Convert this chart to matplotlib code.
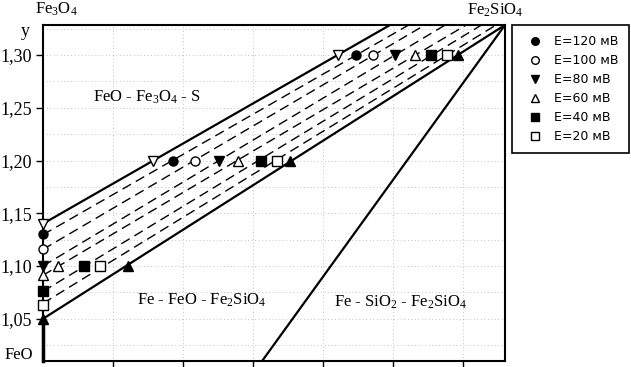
import numpy as np
import matplotlib
matplotlib.use("Agg")
import matplotlib.pyplot as plt
from matplotlib.lines import Line2D

plt.rcParams['font.family'] = ['Liberation Serif', 'DejaVu Serif']
plt.rcParams['mathtext.default'] = 'regular'

# ---- data ----
x_min, x_max = 0.0, 0.66
y_min, y_max = 1.01, 1.3285
y_ticks = [1.05, 1.10, 1.15, 1.20, 1.25, 1.30]
y_tick_labels = ["1,05", "1,10", "1,15", "1,20", "1,25", "1,30"]
x_ticks = [0.1, 0.2, 0.3, 0.4, 0.5, 0.6]

series_labels = ["E=120 мВ", "E=100 мВ", "E=80 мВ", "E=60 мВ", "E=40 мВ", "E=20 мВ"]
series_markers = ["o", "o", "v", "^", "s", "s"]
series_filled = [True, False, True, False, True, False]

e120_x = [0.0, 0.186, 0.447]
e120_y = [1.130, 1.20, 1.30]
e100_x = [0.0, 0.217, 0.472]
e100_y = [1.116, 1.20, 1.30]
e80_x = [0.0, 0.251, 0.503]
e80_y = [1.100, 1.20, 1.30]
e60_x = [0.0, 0.022, 0.279, 0.531]
e60_y = [1.0915, 1.10, 1.20, 1.30]
e40_x = [0.0, 0.058, 0.311, 0.554]
e40_y = [1.076, 1.10, 1.20, 1.30]
e20_x = [0.0, 0.081, 0.334, 0.577]
e20_y = [1.063, 1.10, 1.20, 1.30]

upper_x = [0.0, 0.157, 0.421]        # open down triangles, upper boundary
upper_y = [1.140, 1.20, 1.30]
lower_x = [0.0, 0.121, 0.353, 0.593]  # filled up triangles, lower boundary
lower_y = [1.050, 1.10, 1.20, 1.30]

corner = (0.66, 1.3285)               # Fe2SiO4
sio2_line_x = [0.313, 0.66]
sio2_line_y = [1.01, 1.3285]
feo_line_x = [0.0, 0.0]
feo_line_y = [1.01, 1.05]

series_x = [e120_x, e100_x, e80_x, e60_x, e40_x, e20_x]
series_y = [e120_y, e100_y, e80_y, e60_y, e40_y, e20_y]

# ---- figure ----
fig = plt.figure(figsize=(6.31, 3.67), dpi=100)
ax = fig.add_axes([43/631, 1-361/367, 462/631, 336/367])
ax.set_xlim(x_min, x_max)
ax.set_ylim(y_min, y_max)

# faint dotted grid (sparse, as in the scanned original)
for yy in np.arange(1.025, 1.33, 0.025):
    ax.axhline(yy, color='0.55', lw=0.5, ls=(0, (1, 4)), zorder=0)
for xx in np.arange(0.1, 0.66, 0.1):
    ax.axvline(xx, color='0.55', lw=0.5, ls=(0, (1, 4)), zorder=0)

xx_full = np.linspace(x_min, x_max, 200)

# dashed series lines (linear fits through the markers)
for sx, sy in zip(series_x, series_y):
    k, b = np.polyfit(sx, sy, 1)
    ax.plot(xx_full, k * xx_full + b, color='black', lw=1.0,
            ls=(0, (7, 4)), zorder=2)

# upper boundary
k, b = np.polyfit(upper_x, upper_y, 1)
ax.plot(xx_full, k * xx_full + b, color='black', lw=1.6, zorder=3)
# lower boundary to Fe2SiO4
ax.plot([lower_x[0], corner[0]], [lower_y[0], corner[1]], color='black', lw=1.6, zorder=3)
# Fe - SiO2 - Fe2SiO4 boundary
ax.plot(sio2_line_x, sio2_line_y, color='black', lw=1.6, zorder=3)
# thick y-axis part below 1.05
ax.plot(feo_line_x, feo_line_y, color='black', lw=2.5, zorder=4, clip_on=False)

ms = 6.5
for sx, sy, m, f in zip(series_x, series_y, series_markers, series_filled):
    ax.plot(sx, sy, ls='none', marker=m, ms=ms, mec='black',
            mfc='black' if f else 'white', mew=1.0, zorder=5, clip_on=False)
ax.plot(upper_x, upper_y, ls='none', marker='v', ms=ms, mec='black', mfc='white',
        mew=1.0, zorder=5, clip_on=False)
ax.plot(lower_x, lower_y, ls='none', marker='^', ms=ms, mec='black', mfc='black',
        mew=1.0, zorder=5, clip_on=False)

# axes styling
for s in ax.spines.values():
    s.set_linewidth(1.5)
ax.set_yticks(y_ticks)
ax.set_yticklabels(y_tick_labels, fontsize=13)
ax.set_xticks(x_ticks)
ax.set_xticklabels([])
ax.tick_params(axis='y', direction='out', length=5, width=1.0, pad=3)
ax.tick_params(axis='x', direction='out', length=5, width=1.0)

# labels
fig.text(56/631, 1-9/367, r'Fe$_3$O$_4$', fontsize=12, ha='center', va='center')
fig.text(495/631, 1-10/367, r'Fe$_2$SiO$_4$', fontsize=12, ha='center', va='center')
fig.text(25/631, 1-32/367, 'y', fontsize=13, ha='center', va='center')
fig.text(19/631, 1-355/367, 'FeO', fontsize=12, ha='center', va='center')
fig.text(147/631, 1-97/367, r'FeO - Fe$_3$O$_4$ - S', fontsize=12, ha='center', va='center')
fig.text(202/631, 1-300/367, r'Fe - FeO - Fe$_2$SiO$_4$', fontsize=12, ha='center', va='center')
fig.text(401/631, 1-302/367, r'Fe - SiO$_2$ - Fe$_2$SiO$_4$', fontsize=12, ha='center', va='center')

# legend
handles = [Line2D([], [], ls='none', marker=m, ms=5.5, mec='black',
                  mfc='black' if f else 'white', mew=1.0)
           for m, f in zip(series_markers, series_filled)]
leg = fig.legend(handles, series_labels, loc='upper left',
                 bbox_to_anchor=(512/631, 1-25/367), bbox_transform=fig.transFigure,
                 frameon=True, fancybox=False, edgecolor='black', framealpha=1,
                 borderaxespad=0, prop={'family': 'DejaVu Sans', 'size': 9},
                 handlelength=2.0, handletextpad=0.6, labelspacing=0.48,
                 borderpad=0.8)
leg.get_frame().set_linewidth(1.2)

fig.savefig('out.png', dpi=100)
